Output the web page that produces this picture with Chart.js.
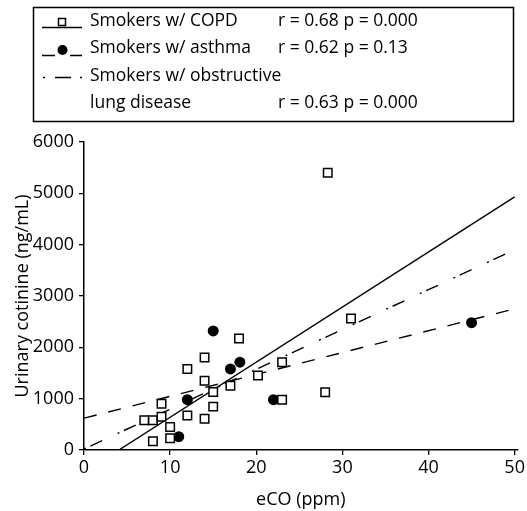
<!DOCTYPE html>
<html>
<head>
<meta charset="utf-8">
<script src="https://cdn.jsdelivr.net/npm/chart.js@4.4.1/dist/chart.umd.min.js"></script>
<style>
	html, body { margin: 0; padding: 0; background: #fff; }
	#wrap { width: 527px; height: 511px; position: relative; }
</style>
</head>
<body>
<div id="wrap"><canvas id="chart"></canvas></div>
<script>
// COPD smokers (open squares)
const copdX = [7, 8, 8, 9, 9, 10, 10, 12, 12, 14, 14, 14, 15, 15, 17, 18, 20.2, 23, 23, 28, 28.3, 31];
const copdY = [580, 580, 170, 900, 650, 450, 230, 1580, 670, 1800, 1350, 610, 1130, 845, 1250, 2170, 1450, 1710, 980, 1125, 5400, 2560];
// asthma smokers (filled circles)
const asthmaX = [11, 12, 15, 17, 18.1, 22, 45];
const asthmaY = [260, 980, 2320, 1580, 1710, 980, 2480];
// regression lines, end points
const copdFitX = [4.05, 50];
const copdFitY = [0, 4930];
const asthmaFitX = [0, 50];
const asthmaFitY = [620, 2750];
const obstructiveFitX = [0, 50];
const obstructiveFitY = [20, 3900];
// legend texts
const legendNames = ["Smokers w/ COPD", "Smokers w/ asthma", "Smokers w/ obstructive", "lung disease"];
const legendStats = ["r = 0.68 p = 0.000", "r = 0.62 p = 0.13", "", "r = 0.63 p = 0.000"];

const FONT = "'Open Sans', 'DejaVu Sans', sans-serif";

function toPoints(xs, ys) {
	return xs.map((x, i) => ({ x: x, y: ys[i] }));
}

// draw the boxed legend above the plot
const legendBox = {
	id: "legendBox",
	afterDraw(chart) {
		const ctx = chart.ctx;
		ctx.save();
		ctx.strokeStyle = "#000";
		ctx.fillStyle = "#000";
		ctx.lineWidth = 1.5;
		ctx.strokeRect(33.5, 7.5, 480, 114);

		ctx.font = "17.5px " + FONT;
		ctx.textBaseline = "middle";
		const rows = [21, 48.5, 76, 103.5];
		for (let i = 0; i < legendNames.length; i++) {
			ctx.fillText(legendNames[i], 90, rows[i]);
			if (legendStats[i]) ctx.fillText(legendStats[i], 278, rows[i]);
		}

		// COPD symbol: solid line with a square
		ctx.lineWidth = 1.3;
		ctx.beginPath();
		ctx.moveTo(42, 27.5);
		ctx.lineTo(82, 27.5);
		ctx.stroke();
		ctx.fillStyle = "#fff";
		ctx.lineWidth = 1.5;
		ctx.fillRect(58.5, 18.5, 7, 7);
		ctx.strokeRect(58.5, 18.5, 7, 7);

		// asthma symbol: dashes with a dot
		ctx.fillStyle = "#000";
		ctx.lineWidth = 1.3;
		ctx.beginPath();
		ctx.moveTo(42, 55.5);
		ctx.lineTo(55, 55.5);
		ctx.moveTo(70, 55.5);
		ctx.lineTo(82, 55.5);
		ctx.stroke();
		ctx.beginPath();
		ctx.arc(62.5, 50, 5, 0, Math.PI * 2);
		ctx.fill();

		// obstructive symbol: dash-dot
		ctx.beginPath();
		ctx.moveTo(43, 77.5);
		ctx.lineTo(45, 77.5);
		ctx.moveTo(55, 77.5);
		ctx.lineTo(71, 77.5);
		ctx.moveTo(80, 77.5);
		ctx.lineTo(82, 77.5);
		ctx.stroke();
		ctx.restore();
	}
};

const ctx = document.getElementById("chart").getContext("2d");

const tickFont = { family: FONT, size: 18 };

const chart = new Chart(ctx, {
	type: "scatter",
	data: {
		datasets: [
			{
				data: toPoints(copdX, copdY),
				pointStyle: "rect",
				pointRadius: 6,
				backgroundColor: "#fff",
				borderColor: "#000",
				borderWidth: 1.5,
			},
			{
				data: toPoints(asthmaX, asthmaY),
				pointStyle: "circle",
				pointRadius: 5.5,
				backgroundColor: "#000",
				borderColor: "#000",
				borderWidth: 0,
			},
			{
				data: toPoints(copdFitX, copdFitY),
				showLine: true,
				pointRadius: 0,
				borderColor: "#000",
				borderWidth: 1.4,
			},
			{
				data: toPoints(asthmaFitX, asthmaFitY),
				showLine: true,
				pointRadius: 0,
				borderColor: "#000",
				borderWidth: 1.4,
				borderDash: [13, 12],
			},
			{
				data: toPoints(obstructiveFitX, obstructiveFitY),
				showLine: true,
				pointRadius: 0,
				borderColor: "#000",
				borderWidth: 1.4,
				borderDash: [2, 5, 13, 17],
			},
		],
	},
	options: {
		responsive: true,
		maintainAspectRatio: false,
		animation: { duration: 0 },
		layout: {
			padding: { left: 0, right: 8, top: 142, bottom: 0 },
		},
		plugins: {
			legend: { display: false },
			tooltip: { enabled: false },
		},
		scales: {
			x: {
				type: "linear",
				min: 0,
				max: 50.35,
				afterFit: (scale) => {
					scale.height = 61;
				},
				ticks: {
					stepSize: 10,
					includeBounds: false,
					color: "#000",
					font: tickFont,
					padding: 2,
				},
				grid: {
					drawOnChartArea: false,
					drawTicks: true,
					tickLength: 5,
					color: "#000",
					lineWidth: 1.3,
				},
				border: { display: true, color: "#000", width: 1.5 },
				title: {
					display: true,
					text: "eCO (ppm)",
					color: "#000",
					font: tickFont,
					padding: { top: 0, bottom: 0 },
				},
			},
			y: {
				type: "linear",
				min: 0,
				max: 6000,
				afterFit: (scale) => {
					scale.width = 84;
				},
				ticks: {
					stepSize: 1000,
					color: "#000",
					font: tickFont,
					padding: 5,
					callback: (v) => String(v),
				},
				grid: {
					drawOnChartArea: false,
					drawTicks: true,
					tickLength: 5,
					color: "#000",
					lineWidth: 1.3,
				},
				border: { display: true, color: "#000", width: 1.5 },
				title: {
					display: true,
					text: "Urinary cotinine (ng/mL)",
					color: "#000",
					font: tickFont,
					padding: { top: 12, bottom: 0 },
				},
			},
		},
	},
	plugins: [legendBox],
});
</script>
</body>
</html>
